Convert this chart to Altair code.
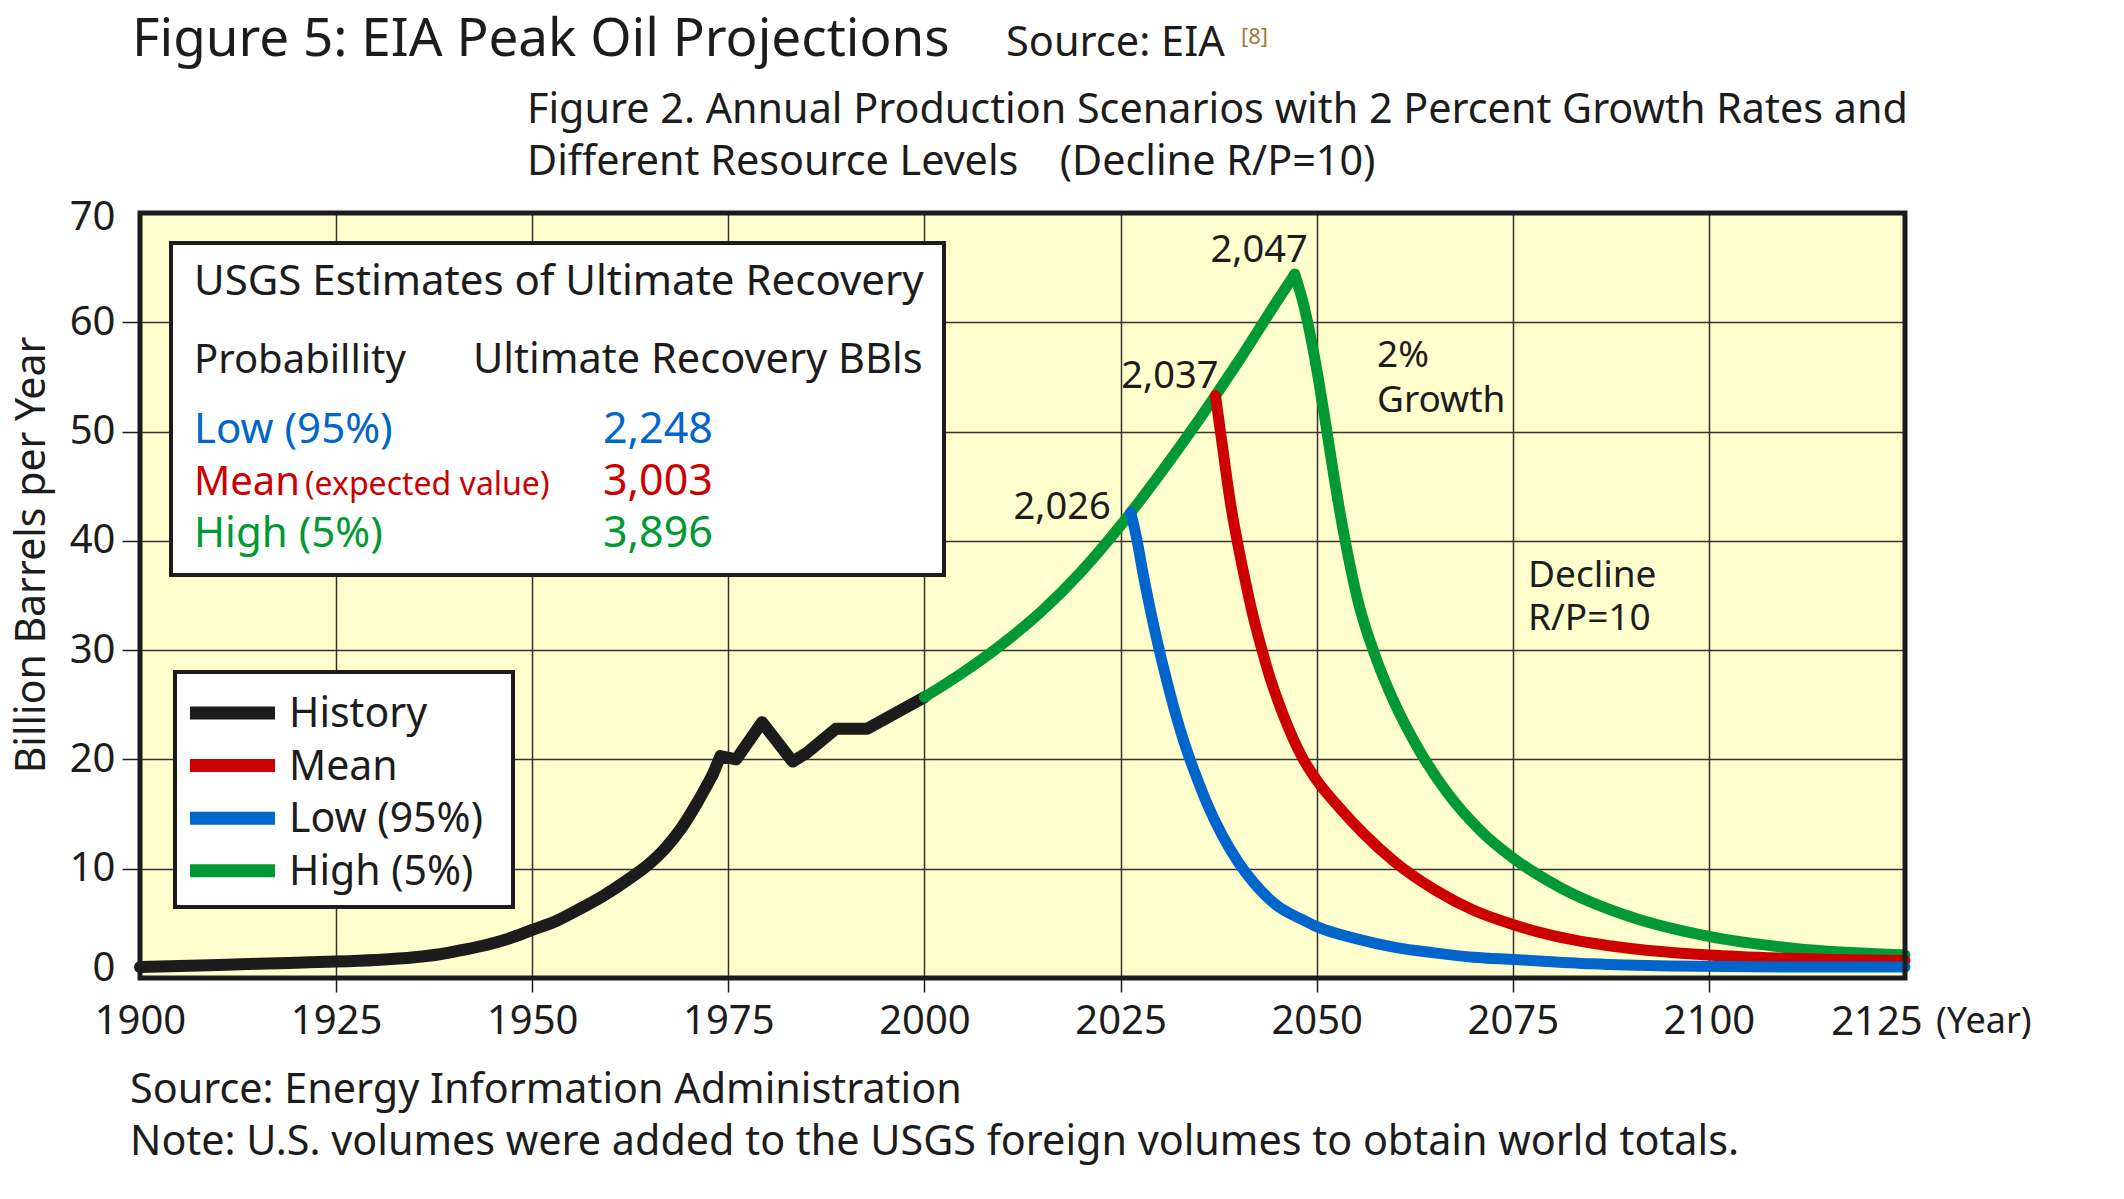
import altair as alt
import pandas as pd

# ---------------- data ----------------
# history: smooth early part, then the jagged 1973-2000 part
hist_years_a = [1900, 1905, 1910, 1915, 1920, 1925, 1930, 1935, 1938, 1941, 1944, 1947, 1950,
                1953, 1956, 1959, 1962, 1965, 1967, 1969, 1971, 1973]
hist_vals_a = [1.0, 1.1, 1.2, 1.3, 1.4, 1.5, 1.65, 1.9, 2.15, 2.55, 3.0, 3.6, 4.4,
               5.2, 6.3, 7.5, 8.9, 10.5, 11.9, 13.7, 16.0, 18.6]
hist_years_b = [1973, 1974, 1976, 1979.3, 1983.2, 1985, 1988.7, 1992.7, 2000]
hist_vals_b = [18.6, 20.3, 20.0, 23.4, 19.8, 20.6, 22.8, 22.8, 25.7]

growth_years = [2000, 2005, 2010, 2015, 2020, 2025, 2030, 2035, 2040, 2045, 2047.2]
growth_vals = [25.7, 28.0, 30.6, 33.6, 37.2, 41.4, 46.1, 51.1, 56.4, 62.0, 64.4]

low_years = [2026.3, 2027, 2028, 2029, 2030, 2031, 2032, 2033, 2034, 2035, 2036, 2038, 2040,
             2042, 2045, 2048, 2050, 2055, 2060, 2065, 2070, 2075, 2085, 2095, 2110, 2125]
low_vals = [42.6, 40.4, 36.5, 33.0, 29.8, 26.9, 24.2, 21.8, 19.7, 17.8, 16.0, 13.0, 10.6,
            8.7, 6.6, 5.4, 4.7, 3.6, 2.8, 2.3, 1.9, 1.7, 1.3, 1.1, 1.0, 1.0]

mean_years = [2037.1, 2038, 2039, 2040, 2041, 2042, 2043, 2044, 2045, 2046, 2048, 2050, 2053,
              2056, 2060, 2065, 2070, 2075, 2080, 2085, 2090, 2100, 2110, 2125]
mean_vals = [53.3, 48.6, 43.5, 39.5, 36.0, 32.8, 30.1, 27.6, 25.5, 23.6, 20.4, 18.1, 15.5,
             13.2, 10.6, 8.1, 6.2, 4.9, 3.9, 3.2, 2.7, 2.1, 1.8, 1.6]

high_years = [2047.2, 2048.2, 2049.2, 2050.2, 2051.2, 2052.2, 2053.4, 2055.3, 2057.4, 2059.9,
              2062.7, 2066.7, 2071, 2075, 2081, 2090, 2100, 2111, 2125]
high_vals = [64.4, 62.0, 58.8, 54.9, 50.5, 45.9, 40.9, 34.4, 29.6, 25.2,
             21.3, 16.9, 13.4, 11.0, 8.3, 5.6, 3.8, 2.7, 2.1]

peak_labels = [2026, 2037, 2047]

series_names = ["History", "Mean", "Low (95%)", "High (5%)"]
series_colors = ["#1c1c1c", "#cc0000", "#0066cc", "#009933"]

usgs_rows = ["Low (95%)", "Mean", "High (5%)"]
usgs_notes = ["", "(expected value)", ""]
usgs_values = [2248, 3003, 3896]
usgs_colors = ["#0066cc", "#cc0000", "#009933"]

x_ticks = [1900, 1925, 1950, 1975, 2000, 2025, 2050, 2075, 2100]
x_last = 2125
y_ticks = [0, 10, 20, 30, 40, 50, 60, 70]

# ---------------- styling ----------------
FONT = "Noto Sans"
INK = "#1c1c1c"
BG = "#FFFECC"
W, H = 1765, 765

xs = alt.Scale(domain=[1900, 2125], nice=False, zero=False)
ys = alt.Scale(domain=[0, 70], nice=False, zero=True)

XA = alt.Axis(values=x_ticks, format="d", title=None, grid=True, gridColor="#333333",
              gridWidth=1.5, domain=False, tickSize=14, tickColor=INK, tickWidth=1.5,
              labelFont=FONT, labelFontSize=40, labelColor=INK, labelPadding=9,
              labelFlush=False,
              tickOpacity={"condition": {"test": "datum.value == 1900", "value": 0}, "value": 1})
YA = alt.Axis(values=y_ticks, title=None, grid=True, gridColor="#333333", gridWidth=1.5,
              domain=False, tickSize=18, tickColor=INK, tickWidth=1.5,
              labelFont=FONT, labelFontSize=40, labelColor=INK, labelPadding=7,
              labelOffset={"condition": [{"test": "datum.value == 0", "value": -10},
                                         {"test": "datum.value == 70", "value": 4}], "value": 0},
              tickOpacity={"condition": {"test": "datum.value == 0 || datum.value == 70",
                                         "value": 0}, "value": 1})


def frame(xv, yv):
    return pd.DataFrame({"year": xv, "value": yv})


def line(xv, yv, color, width=11, interp="monotone"):
    return alt.Chart(frame(xv, yv)).mark_line(
        color=color, strokeWidth=width, strokeCap="round", strokeJoin="round", interpolate=interp
    ).encode(
        x=alt.X("year:Q", scale=xs, axis=XA),
        y=alt.Y("value:Q", scale=ys, axis=YA),
        order="year:Q",
    )


def text(s, x, y, size, color=INK, align="left", font=FONT, angle=None):
    kw = dict(text=s, align=align, baseline="alphabetic", fontSize=size, font=font, color=color)
    if angle is not None:
        kw["angle"] = angle
    return alt.Chart(alt.Data(values=[{}])).mark_text(**kw).encode(x=alt.value(x), y=alt.value(y))


def box(x0, x1, y0, y1):
    return alt.Chart(alt.Data(values=[{}])).mark_rect(
        fill="white", stroke=INK, strokeWidth=4
    ).encode(x=alt.value(x0), x2=alt.value(x1), y=alt.value(y0), y2=alt.value(y1))


def peak_label(yr, val, txt, dx, dy):
    return alt.Chart(alt.Data(values=[{"year": yr, "value": val}])).mark_text(
        text=txt, align="right", baseline="alphabetic", fontSize=38, font=FONT, color=INK, dx=dx, dy=dy
    ).encode(x=alt.X("year:Q", scale=xs, axis=XA), y=alt.Y("value:Q", scale=ys, axis=YA))


layers = []
# data lines (drawn in z-order: history, high, mean, low)
layers.append(line(hist_years_a, hist_vals_a, series_colors[0], width=12, interp="monotone"))
layers.append(line(hist_years_b, hist_vals_b, series_colors[0], width=12, interp="linear"))
layers.append(line(growth_years, growth_vals, series_colors[3]))
layers.append(line(high_years, high_vals, series_colors[3]))
layers.append(line(mean_years, mean_vals, series_colors[1]))
layers.append(line(low_years, low_vals, series_colors[2]))

# last x label with "(Year)"
layers.append(alt.Chart(alt.Data(values=[{"year": x_last}])).mark_text(
    text=str(x_last), align="center", baseline="alphabetic", fontSize=40, font=FONT, color=INK, dx=-28
).encode(x=alt.X("year:Q", scale=xs, axis=XA), y=alt.value(H + 57)))
layers.append(text("(Year)", W + 31, H + 55, 36))

# peak labels
layers.append(peak_label(low_years[0], low_vals[0], f"{peak_labels[0]:,}", -20, 7))
layers.append(peak_label(mean_years[0], mean_vals[0], f"{peak_labels[1]:,}", 3, -8))
layers.append(peak_label(high_years[0], high_vals[0], f"{peak_labels[2]:,}", 13, -12))

# annotations
layers.append(text("2%", 1237, 154, 37))
layers.append(text("Growth", 1237, 199, 37))
layers.append(text("Decline", 1388, 374, 37))
layers.append(text("R/P=10", 1388, 417, 37))

# USGS box
layers.append(box(31, 804, 30, 362))
layers.append(text("USGS Estimates of Ultimate Recovery", 54, 82, 42))
layers.append(text("Probabillity", 54, 160, 40))
layers.append(text("Ultimate Recovery BBls", 333, 160, 41.5))
for i, (lab, note, val, col) in enumerate(zip(usgs_rows, usgs_notes, usgs_values, usgs_colors)):
    yb = 230 + 52 * i
    if note:
        layers.append(text(lab, 54, yb, 40, color=col))
        layers.append(text(note, 165, yb, 32, color=col))
    else:
        layers.append(text(lab, 54, yb, 42, color=col))
    layers.append(text(f"{val:,}", 463, yb, 43, color=col))

# legend box
layers.append(box(35, 373, 459, 694))
for i, (name, col) in enumerate(zip(series_names, series_colors)):
    yc = 500 + 52.6 * i
    layers.append(alt.Chart(alt.Data(values=[{}])).mark_rule(color=col, strokeWidth=13).encode(
        x=alt.value(50), x2=alt.value(135), y=alt.value(yc)))
    layers.append(text(name, 149, yc + 14, 41))

# plot frame on top
layers.append(alt.Chart(alt.Data(values=[{}])).mark_rect(
    filled=False, stroke=INK, strokeWidth=5
).encode(x=alt.value(0), x2=alt.value(W), y=alt.value(0), y2=alt.value(H)))

# y-axis title
layers.append(text("Billion Barrels per Year", -95, 342, 41, align="center", angle=270))

# titles
layers.append(text("Figure 5: EIA Peak Oil Projections", -8, -157, 53))
layers.append(text("Source: EIA", 866, -157, 41.5))
layers.append(text("[8]", 1101, -169, 22, color="#9c7a3c"))
layers.append(text("Figure 2. Annual Production Scenarios with 2 Percent Growth Rates and", 387, -90, 41.3))
layers.append(text("Different Resource Levels\u2003(Decline R/P=10)", 387, -38, 41.3))

# footer
layers.append(text("Source: Energy Information Administration", -10, 890, 41.3))
layers.append(text("Note: U.S. volumes were added to the USGS foreign volumes to obtain world totals.",
                   -10, 942, 41.3))

chart = alt.layer(*layers).properties(
    width=W, height=H,
    padding={"left": 132, "top": 205, "right": 211, "bottom": 213},
    autosize=alt.AutoSizeParams(type="none"),
    background="white",
).configure_view(fill=BG, stroke="transparent")

chart.save("out.html", embed_options={"renderer": "svg", "actions": False})
